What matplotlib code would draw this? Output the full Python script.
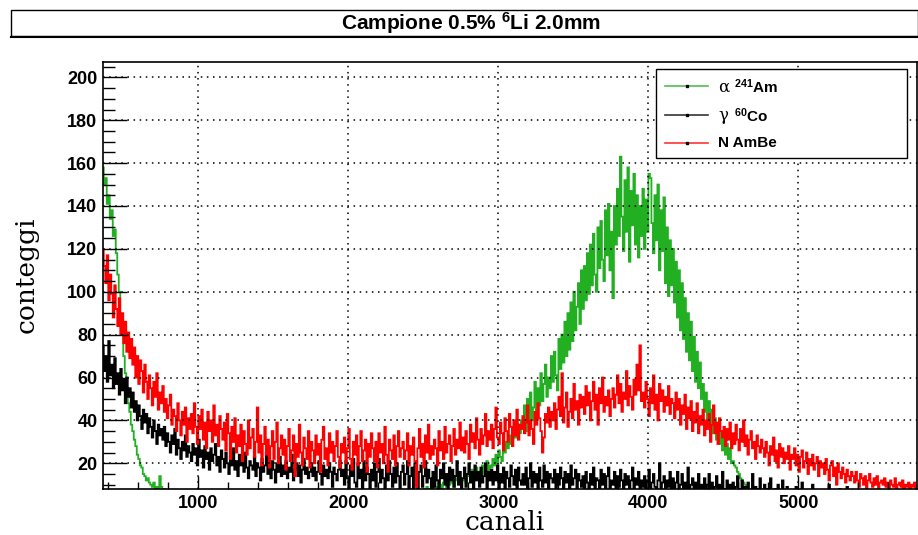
import matplotlib
matplotlib.use('Agg')
import matplotlib.pyplot as plt
import matplotlib.patches as mpatches
from matplotlib.lines import Line2D
import numpy as np

plt.rcParams['font.family'] = ['Liberation Sans', 'DejaVu Sans']
plt.rcParams['mathtext.default'] = 'regular'

# spettri: istogrammi da 10 canali, primo bordo a 360 (una riga = 200 canali)
bin_start = 360
bin_width = 10

alpha_am = [
    158, 150, 153, 141, 145, 134, 138, 126, 129, 118, 108, 100, 88, 80, 70, 62, 55, 48, 44, 38,       # 360
    35, 31, 28, 24, 22, 19, 18, 15, 14, 12, 13, 11, 10, 9, 11, 8, 9, 8, 14, 9,                         # 560
    7, 8, 6, 5, 6, 4, 5, 3, 4, 3, 2, 3, 2, 2, 1, 2, 1, 2, 1, 1,                                        # 760
    1, 2, 1, 1, 0, 1, 2, 1, 0, 1, 1, 0, 1, 1, 0, 1, 0, 1, 1, 0,                                        # 960
    0, 1, 0, 0, 1, 0, 1, 0, 0, 1, 0, 0, 1, 0, 0, 1, 0, 0, 0, 1,                                        # 1160
    0, 0, 1, 0, 0, 0, 1, 0, 0, 0, 1, 0, 0, 0, 0, 1, 0, 0, 1, 0,                                        # 1360
    0, 0, 0, 1, 0, 0, 0, 0, 1, 0, 0, 0, 1, 0, 0, 0, 0, 1, 0, 0,                                        # 1560
    1, 0, 0, 0, 0, 1, 0, 0, 0, 1, 0, 0, 0, 1, 0, 0, 1, 0, 0, 0,                                        # 1760
    0, 1, 0, 0, 1, 0, 1, 0, 0, 1, 1, 0, 1, 0, 1, 1, 0, 1, 1, 0,                                        # 1960
    1, 1, 2, 1, 1, 2, 1, 1, 2, 1, 2, 1, 2, 2, 1, 2, 2, 1, 2, 2,                                        # 2160
    2, 3, 2, 4, 3, 5, 4, 3, 6, 4, 5, 7, 5, 6, 8, 6, 9, 7, 8, 10,                                       # 2360
    8, 11, 9, 7, 12, 10, 8, 11, 13, 9, 12, 10, 14, 11, 9, 13, 12, 15, 11, 13,                          # 2560
    12, 15, 11, 14, 16, 13, 17, 12, 15, 18, 14, 16, 13, 19, 15, 17, 21, 16, 19, 18,                    # 2760
    22, 19, 24, 20, 26, 23, 21, 28, 25, 30, 27, 33, 29, 31, 36, 32, 35, 38, 34, 40,                    # 2960
    37, 47, 35, 50, 41, 53, 40, 46, 58, 44, 55, 47, 62, 49, 57, 66, 51, 60, 55, 70,                    # 3160
    58, 72, 61, 54, 78, 64, 80, 67, 86, 70, 90, 73, 95, 77, 100, 82, 93, 104, 85, 110,                 # 3360
    92, 112, 96, 118, 99, 122, 103, 127, 108, 100, 130, 111, 133, 115, 105, 138, 117, 141, 110, 128,   # 3560
    97, 140, 122, 148, 126, 163, 135, 119, 152, 128, 158, 114, 147, 131, 155, 122, 145, 116, 140, 126, # 3760
    148, 120, 143, 128, 155, 153, 132, 118, 145, 124, 150, 110, 138, 119, 144, 104, 130, 98, 124, 103, # 3960
    120, 95, 114, 88, 110, 82, 104, 78, 97, 72, 90, 68, 86, 63, 79, 58, 72, 55, 67, 50,                # 4160
    57, 44, 53, 40, 49, 37, 45, 34, 41, 31, 38, 29, 35, 26, 32, 24, 29, 22, 27, 20,                    # 4360
    21, 19, 18, 16, 15, 13, 12, 11, 10, 9, 8, 7, 7, 6, 5, 5, 4, 3, 3, 2,                               # 4560
    2, 2, 1, 2, 1, 1, 0, 1, 1, 0, 0, 1, 0, 0, 0, 1, 0, 0, 0, 0,                                        # 4760
    0, 0, 0, 0, 0, 0, 0, 0, 0, 0, 0, 0, 0, 0, 0, 0, 0, 0, 0, 0,                                        # 4960
    0, 0, 0, 0, 0, 0, 0, 0, 0, 0, 0, 0, 0, 0, 0, 0, 0, 0, 0, 0,                                        # 5160
    0, 0, 0, 0, 0, 0, 0, 0, 0, 0, 0, 0, 0, 0, 0, 0, 0, 0, 0, 0,                                        # 5360
    0, 0, 0, 0, 0, 0, 0, 0, 0, 0, 0, 0, 0, 0, 0, 0, 0, 0, 0, 0,                                        # 5560
    0, 0, 0, 0,                                                                                        # 5760
]

gamma_co = [
    75, 63, 70, 58, 77, 61, 66, 55, 69, 57, 62, 52, 64, 54, 59, 48, 60, 51, 55, 46,
    53, 44, 49, 40, 47, 42, 36, 45, 39, 43, 34, 41, 37, 32, 40, 35, 29, 38, 33, 36,
    31, 37, 28, 34, 30, 25, 33, 29, 36, 24, 31, 27, 22, 30, 26, 33, 23, 28, 25, 21,
    29, 24, 27, 19, 31, 23, 26, 18, 28, 22, 25, 17, 27, 21, 24, 29, 19, 23, 16, 26,
    22, 18, 25, 20, 15, 23, 19, 27, 17, 21, 14, 24, 19, 22, 16, 25, 18, 13, 21, 19,
    17, 23, 14, 20, 18, 12, 22, 16, 19, 25, 15, 18, 13, 21, 17, 11, 20, 16, 23, 14,
    19, 15, 21, 13, 18, 16, 24, 12, 17, 20, 14, 19, 11, 17, 22, 15, 18, 13, 16, 20,
    14, 18, 12, 16, 21, 15, 10, 19, 14, 17, 13, 20, 16, 9, 18, 15, 12, 17, 21, 14,
    17, 10, 21, 13, 8, 19, 14, 22, 11, 9, 20, 13, 17, 8, 21, 12, 18, 15, 7, 17,
    12, 20, 9, 16, 22, 11, 17, 13, 7, 19, 12, 21, 15, 9, 18, 11, 20, 14, 8, 16,
    19, 10, 15, 21, 8, 14, 18, 6, 20, 12, 5, 16, 19, 9, 14, 21, 11, 17, 13, 8,
    16, 9, 19, 12, 7, 17, 13, 20, 10, 15, 8, 18, 12, 17, 9, 14, 21, 10, 16, 7,
    13, 18, 9, 15, 20, 11, 16, 7, 19, 12, 16, 9, 18, 11, 14, 20, 8, 16, 12, 17,
    10, 16, 12, 19, 8, 15, 11, 18, 7, 16, 13, 9, 19, 14, 10, 17, 8, 18, 12, 10,
    15, 10, 18, 8, 13, 20, 9, 16, 11, 15, 7, 18, 12, 9, 19, 11, 16, 8, 15, 13,
    11, 17, 8, 15, 10, 18, 13, 7, 16, 11, 15, 8, 19, 10, 13, 17, 7, 15, 12, 9,
    14, 8, 16, 11, 7, 15, 10, 18, 8, 13, 12, 6, 17, 10, 15, 8, 14, 18, 7, 12,
    10, 16, 7, 14, 9, 17, 12, 6, 15, 10, 14, 7, 12, 18, 8, 13, 10, 16, 6, 12,
    9, 14, 6, 12, 17, 8, 11, 15, 9, 5, 12, 20, 7, 11, 14, 6, 12, 9, 16, 8,
    13, 6, 11, 16, 8, 10, 15, 5, 11, 8, 18, 6, 10, 13, 5, 11, 8, 15, 7, 10,
    8, 13, 5, 10, 15, 7, 11, 4, 9, 14, 6, 10, 5, 16, 8, 7, 12, 4, 10, 7,
    11, 5, 9, 14, 4, 8, 12, 6, 9, 3, 11, 7, 5, 15, 6, 9, 4, 8, 13, 5,
    6, 10, 4, 8, 5, 13, 6, 3, 8, 5, 10, 4, 7, 12, 5, 3, 9, 5, 4, 7,
    5, 3, 9, 4, 7, 2, 11, 5, 3, 7, 4, 6, 2, 10, 4, 3, 7, 4, 2, 6,
    4, 2, 6, 3, 10, 4, 2, 6, 3, 5, 1, 8, 3, 2, 5, 3, 9, 2, 3, 5,
    3, 5, 4, 2, 4, 3, 5, 2, 4, 3, 2, 4, 3, 5, 2, 3, 4, 2, 3, 4,
    2, 3, 4, 2, 3, 1, 3, 2, 4, 2, 3, 2, 1, 3, 2, 3, 2, 1, 2, 3,
    2, 1, 3, 2,
]

n_ambe = [
    120, 112, 104, 117, 96, 108, 99, 88, 103, 92, 84, 97, 80, 90, 76, 86, 72, 81, 69, 78,
    66, 74, 60, 70, 57, 68, 63, 53, 66, 58, 50, 61, 55, 47, 58, 51, 62, 45, 53, 48,
    56, 44, 50, 41, 47, 52, 38, 45, 42, 35, 48, 40, 33, 44, 38, 46, 30, 41, 36, 43,
    34, 48, 37, 29, 42, 36, 45, 31, 39, 27, 44, 35, 40, 30, 47, 33, 38, 28, 42, 36,
    31, 39, 26, 43, 34, 22, 37, 30, 41, 25, 33, 28, 38, 21, 35, 29, 24, 40, 27, 32,
    36, 23, 30, 46, 25, 33, 19, 29, 37, 24, 31, 18, 28, 35, 22, 30, 39, 20, 27, 33,
    24, 31, 17, 28, 36, 21, 26, 33, 14, 29, 23, 38, 25, 19, 32, 27, 22, 35, 18, 30,
    26, 20, 33, 24, 29, 16, 31, 37, 22, 27, 19, 34, 25, 30, 21, 28, 35, 23, 18, 29,
    25, 32, 20, 27, 36, 22, 17, 30, 24, 33, 19, 28, 35, 21, 26, 31, 16, 29, 23, 34,
    27, 21, 30, 18, 34, 25, 29, 20, 37, 24, 16, 31, 26, 22, 33, 19, 28, 35, 23, 27,
    30, 22, 26, 34, 19, 28, 24, 32, 21, 9, 27, 36, 23, 29, 18, 33, 25, 38, 22, 28,
    24, 31, 27, 19, 35, 26, 30, 22, 37, 25, 29, 33, 21, 28, 36, 24, 31, 27, 39, 26,
    32, 25, 35, 29, 22, 38, 30, 34, 27, 41, 31, 24, 36, 29, 33, 43, 28, 35, 31, 38,
    27, 36, 46, 32, 29, 39, 34, 26, 41, 35, 30, 43, 37, 28, 40, 33, 45, 31, 38, 36,
    42, 34, 39, 47, 33, 40, 36, 29, 44, 38, 48, 41, 35, 25, 32, 43, 39, 46, 37, 44,
    40, 48, 36, 45, 51, 42, 62, 39, 46, 53, 37, 44, 50, 41, 57, 45, 49, 38, 52, 46,
    51, 43, 56, 47, 53, 40, 49, 58, 45, 52, 38, 55, 48, 60, 44, 51, 47, 54, 42, 50,
    55, 46, 52, 61, 48, 57, 44, 53, 50, 63, 47, 56, 51, 45, 59, 52, 66, 54, 75, 49,
    53, 46, 58, 50, 42, 55, 48, 61, 45, 52, 40, 57, 49, 54, 44, 51, 47, 56, 43, 50,
    48, 41, 53, 45, 50, 38, 47, 43, 52, 36, 46, 41, 49, 35, 44, 39, 48, 34, 42, 38,
    45, 33, 40, 36, 43, 30, 38, 47, 34, 39, 29, 41, 35, 32, 37, 28, 36, 31, 39, 27,
    34, 29, 38, 31, 26, 36, 30, 40, 28, 33, 24, 31, 35, 27, 30, 22, 33, 28, 25, 31,
    27, 23, 30, 25, 19, 28, 24, 32, 21, 26, 18, 29, 23, 27, 20, 25, 22, 28, 17, 24,
    22, 27, 19, 24, 16, 23, 26, 18, 21, 25, 15, 22, 19, 24, 17, 20, 23, 14, 21, 18,
    20, 15, 22, 17, 12, 19, 21, 14, 18, 10, 20, 16, 13, 18, 15, 11, 17, 14, 12, 16,
    14, 11, 16, 12, 9, 15, 13, 10, 14, 8, 12, 15, 11, 9, 13, 10, 14, 8, 11, 12,
    10, 13, 9, 11, 8, 12, 10, 9, 13, 8, 10, 11, 9, 12, 8, 10, 9, 11, 8, 10,
    9, 11, 8, 9,
]

series = [
    (alpha_am, '#22b022'),
    (gamma_co, 'black'),
    (n_ambe, '#ff0000'),
]

W, H = 918, 535


def px(x, y):
    return x / W, 1 - y / H


fig = plt.figure(figsize=(W / 100, H / 100), dpi=100)
ax = fig.add_axes([103 / W, 1 - 489 / H, (917 - 103) / W, (489 - 61.7) / H])

edges = bin_start + bin_width * np.arange(len(n_ambe) + 1)
for vals, col in series:
    ax.stairs(vals, edges, color=col, lw=1.3)

ax.set_xlim(365, 5790)
ax.set_ylim(8, 207.3)
ax.set_xticks([1000, 2000, 3000, 4000, 5000])
ax.set_xticks(np.arange(400, 5800, 200), minor=True)
ax.set_yticks(np.arange(20, 201, 20))
ax.set_yticks(np.arange(10, 207, 5), minor=True)
ax.grid(True, which='major', color='black', linestyle=(0, (1, 3)), lw=1.1)

for lab in ax.get_xticklabels() + ax.get_yticklabels():
    lab.set_fontweight('bold')
    lab.set_fontsize(13)
ax.tick_params(axis='y', which='major', direction='in', length=17.5, width=1, pad=4)
ax.tick_params(axis='y', which='minor', direction='in', length=8.8, width=1)
ax.tick_params(axis='x', which='major', direction='in', length=9.4, width=1, pad=4)
ax.tick_params(axis='x', which='minor', direction='in', length=4.7, width=1)
for sp in ax.spines.values():
    sp.set_linewidth(1.2)

# assi
fig.text(*px(505, 535), 'canali', family='DejaVu Serif', fontsize=19,
         ha='center', va='bottom')
fig.text(*px(26, 275), 'conteggi', family='DejaVu Serif', fontsize=19,
         ha='center', va='center', rotation=90)

# titolo in riquadro
fig.add_artist(mpatches.Rectangle(px(11, 36), (918 - 11) / W, 26 / H,
                                  transform=fig.transFigure, fill=False,
                                  ec='black', lw=1))
fig.add_artist(Line2D([11 / W, 1], [1 - 37 / H] * 2, transform=fig.transFigure,
                      color='black', lw=1.5))
fig.text(*px(471, 23.5), 'Campione 0.5% $^{6}$Li 2.0mm', fontsize=15,
         fontweight='bold', ha='center', va='center')

# legenda
fig.add_artist(mpatches.Rectangle(px(656, 158), (907 - 656) / W, (158 - 69) / H,
                                  transform=fig.transFigure, fc='white',
                                  ec='black', lw=1, zorder=5))
rows_y = [86, 115, 143]
for (vals, col), y in zip(series, rows_y):
    x0, y0 = px(665, y)
    x1, _ = px(708, y)
    fig.add_artist(Line2D([x0, x1], [y0, y0], transform=fig.transFigure,
                          color=col, lw=1.2, zorder=6, alpha=0.8))
    fig.add_artist(Line2D([(x0 + x1) / 2], [y0], transform=fig.transFigure,
                          color='black', marker='s', markersize=1.5, zorder=7))

fig.text(*px(718, rows_y[0] + 1), 'α', family='DejaVu Serif', fontsize=12,
         va='center', zorder=8)
fig.text(*px(734, rows_y[0] + 1), '$^{241}$Am', fontsize=11, fontweight='bold',
         va='center', zorder=8)
fig.text(*px(718, rows_y[1] + 1), 'γ', family='DejaVu Serif', fontsize=12,
         va='center', zorder=8)
fig.text(*px(734, rows_y[1] + 1), '$^{60}$Co', fontsize=11, fontweight='bold',
         va='center', zorder=8)
fig.text(*px(718, rows_y[2]), 'N AmBe', fontsize=11, fontweight='bold',
         va='center', zorder=8)

fig.savefig('out.png', dpi=100)
